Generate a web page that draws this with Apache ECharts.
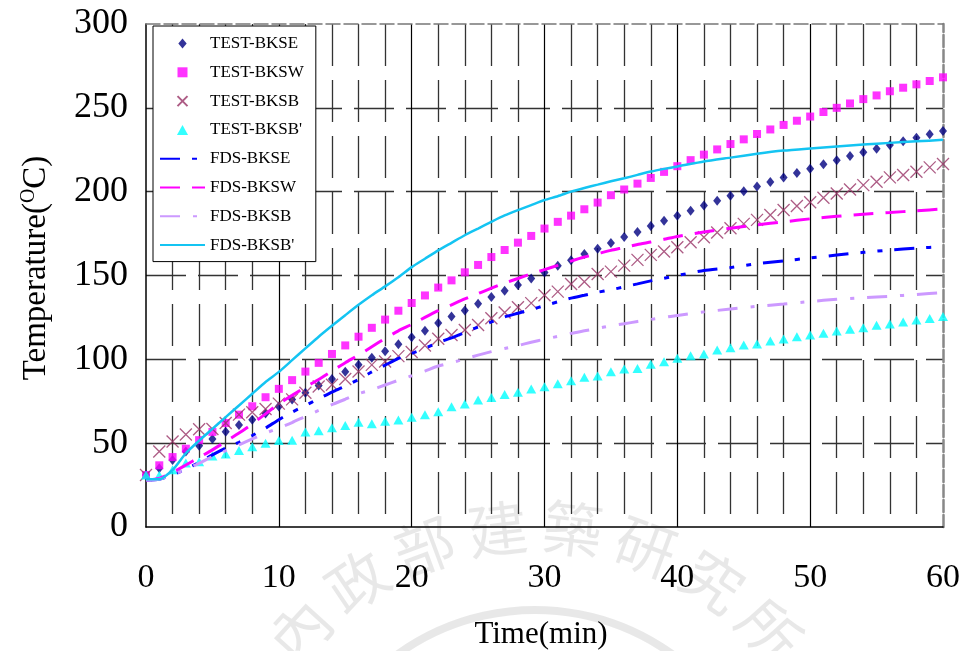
<!DOCTYPE html>
<html>
<head>
<meta charset="utf-8">
<script src="https://cdn.jsdelivr.net/npm/echarts@6/dist/echarts.min.js"></script>
<style>
  html, body { margin: 0; padding: 0; background: #fff; }
  #chart { width: 963px; height: 651px; }
</style>
</head>
<body>
<div id="chart"></div>
<script>
// Measured temperatures, one reading per minute (0-60 min)
const testMinutes = [0,1,2,3,4,5,6,7,8,9,10,11,12,13,14,15,16,17,18,19,20,21,22,23,24,25,26,27,28,29,30,
  31,32,33,34,35,36,37,38,39,40,41,42,43,44,45,46,47,48,49,50,51,52,53,54,55,56,57,58,59,60];

const testBKSE = [31,35,40,45,48.5,52.5,56.8,60.8,64,67.7,71.9,76,80.1,84.4,88.2,92.6,96.7,100.9,104.8,109,113.2,
  117.1,121.6,125.5,129.1,133.2,137.2,140.9,144.3,148.2,151.8,155.8,159.1,162.8,166,169.4,173,176,179.5,182.6,185.6,
  188.6,191.7,194.6,197.6,200.3,203.1,205.8,208.4,211.1,213.7,216.4,218.8,221.2,223.5,225.6,227.8,230.1,232.2,234.2,236.2];

const testBKSW = [31,36.8,41.7,46.7,51.8,56.7,62,67,72,77.4,82.4,87.6,92.7,97.9,103.2,108.3,113.5,118.8,123.7,129,133.6,
  138.1,142.8,147.1,151.9,156.3,161,165.2,169.6,173.6,178,182,185.7,189.5,193.5,197.9,201.3,204.8,208.2,211.8,215.2,
  218.8,222.1,225.2,228.4,231.2,234.4,237.1,239.8,242.3,244.8,247.5,250,252.6,255.2,257.4,259.9,262,264,266,268.2];

const testBKSB = [31,45,51,55.2,58.3,58.4,62,67,68.4,70.4,73.6,76.1,80.1,83.8,84.8,88.3,92.7,96.7,98.7,101.9,104.4,
  108.3,112.3,114.5,117.5,120.5,124.5,127.9,131.1,133.5,138.2,140.4,144.9,146.3,150.9,152.3,155.9,159.3,162.3,164.3,166.8,
  169.8,172.8,175.6,178.2,180.8,183.2,186.1,189.1,191.5,193.7,196.4,198.9,201.3,203.9,205.9,208.5,209.9,211.9,214.5,216.5];

const testBKSBp = [31,30.8,34.1,38.1,38.9,42.4,43.6,45.6,47.8,50,51.6,51.8,56.6,57.4,59.2,60.6,62.5,61.6,63,63.8,65.4,
  67,68.8,71.7,73.3,75.7,77.3,79.1,80.3,82.3,83.7,85.5,87.2,89.3,90,92.6,94.2,94.6,97,98.6,100.6,
  102.1,103.2,105.5,106.9,108.5,109.1,110.9,112.1,113.5,114.5,115.5,116.9,117.9,118.9,120.3,121.1,122.3,123.5,124.3,125.5];

// FDS simulation output times (min)
const fdsMinutes = [0,1,2,3,4,5,6,7,8,9,10,11,12,13,14,15,16,17,18,19,20,21,22,23,24,25,26,27,28,29,30,
  31,32,33,34,35,36,37,38,39,40,42,44,46,48,50,52,54,56,58,60];

const fdsBKSE = [28,28.5,31,34.5,38.5,43,47,50.5,54.5,59,64,68.5,72.5,76.5,80.5,84,88,92.5,96.5,100.5,103.5,
  106.5,110,112.8,116,119.3,122.3,125.3,127.5,129.7,132,134.3,136.5,138.2,140,141.5,143.2,145,146.8,148.4,150,
  153,154.7,157,158.7,160.5,162.2,163.8,165.2,166.3,167.2];

const fdsBKSW = [28,29,32.5,37,41.5,46,51,56,61.5,67.5,73.5,78.5,83.5,88,93,98,102.5,107.5,112.5,117,120.8,
  125,129,132.5,136,139.2,142.5,145.5,148.2,151,153.5,156,158.6,161,163,165,166.7,168.5,170,171.6,173.3,
  176,178.2,180.2,182,183.8,185.3,186.6,187.6,188.6,189.7];

const fdsBKSB = [28,28.5,31,34.5,38,42,45.5,49,52.5,56,59,62.3,66,69.5,73,76.2,79.5,81.8,84.7,87.5,90.2,
  93,96,98,100.2,102.5,104.6,106.5,108.2,110.2,112,113.7,115.5,117,118.5,120,121.2,122.6,123.8,125,126.2,
  128.3,130,131.6,133,134.5,135.8,136.8,137.6,138.7,139.8];

const fdsBKSBp = [28.5,28.5,34,44,51.5,58.5,65.5,72.5,79.5,86.5,92.5,99.5,106.5,113.5,120,126.3,132.5,138.2,143.5,149,155,
  160,165,169.5,174,178,182,185.8,189,192,195,197.3,200,202.2,204.2,206.2,208,210,212,213.6,215,
  218,220.3,222.6,224.5,225.8,227,228.1,229.1,230,230.9];

const seriesNames = ['TEST-BKSE', 'TEST-BKSW', 'TEST-BKSB', "TEST-BKSB'",
                     'FDS-BKSE', 'FDS-BKSW', 'FDS-BKSB', "FDS-BKSB'"];

const xTicks = [0, 10, 20, 30, 40, 50, 60];
const yTicks = [0, 50, 100, 150, 200, 250, 300];

const watermarkChars = ['內', '政', '部', '建', '築', '研', '究', '所'];

const SERIF = '"Liberation Serif", "Times New Roman", serif';

// marker outlines shared by the plot and the legend
const DIAMOND = 'path://M5,0L10,6L5,12L0,6Z';
const SQUARE = 'path://M0,0H10V10H0Z';
const CROSS = 'path://M0,0L10,10M10,0L0,10';
const TRIANGLE = 'path://M5,0L10,9H0Z';

function pairs(xs, ys) {
  return xs.map((x, i) => [x, ys[i]]);
}

// faint seal text arranged on an arc below the plot
function watermark() {
  const cx = 535, cy = 845, r = 318;
  const step = 13.6;
  const first = -step * (watermarkChars.length - 1) / 2;
  const items = watermarkChars.map((ch, i) => {
    const deg = first + step * i;
    const rad = deg * Math.PI / 180;
    return {
      type: 'text',
      x: cx + r * Math.sin(rad),
      y: cy - r * Math.cos(rad),
      rotation: -rad,
      silent: true,
      z: -5,
      style: {
        text: ch,
        font: '60px "Noto Sans CJK TC", sans-serif',
        fill: 'rgba(0,0,0,0.09)',
        align: 'center',
        verticalAlign: 'middle'
      }
    };
  });
  items.push({
    type: 'arc',
    silent: true,
    z: -5,
    shape: { cx: cx, cy: cy, r: 235, startAngle: -Math.PI * 0.82, endAngle: -Math.PI * 0.18 },
    style: { stroke: 'rgba(0,0,0,0.09)', lineWidth: 8, fill: null }
  });
  return items;
}

const chart = echarts.init(document.getElementById('chart'), null, { renderer: 'canvas' });

const xLabelSet = new Set(xTicks);
const yLabelSet = new Set(yTicks);

const markerIcons = [DIAMOND, SQUARE, CROSS, TRIANGLE];
const legendData = seriesNames.map((name, i) => (
  i < 4 ? { name: name, icon: markerIcons[i] }
        : { name: name, itemStyle: { opacity: 0 } }
));

chart.setOption({
  backgroundColor: '#ffffff',
  animation: false,
  textStyle: { fontFamily: SERIF },
  grid: { left: 146, right: 18, top: 24, bottom: 124 },
  legend: {
    data: legendData,
    orient: 'vertical',
    left: 153,
    top: 26,
    backgroundColor: '#ffffff',
    borderColor: '#000000',
    borderWidth: 1,
    borderRadius: 0,
    padding: [9, 12, 8, 6],
    itemWidth: 45,
    itemHeight: 10,
    itemGap: 11.8,
    textStyle: { fontFamily: SERIF, fontSize: 17, color: '#000', lineHeight: 16 },
    selectedMode: false
  },
  graphic: [
    ...watermark(),
    {
      type: 'text',
      x: 36, y: 268,
      rotation: Math.PI / 2,
      style: {
        text: '{t|Temperature(}{s|O}{t|C)}',
        rich: {
          t: { font: '33px ' + SERIF, fill: '#000' },
          s: { font: '20px ' + SERIF, fill: '#000', padding: [0, 0, 14, 0] }
        },
        align: 'center',
        verticalAlign: 'middle'
      }
    },
    {
      type: 'text',
      x: 541, y: 635,
      style: {
        text: 'Time(min)',
        font: '31px ' + SERIF,
        fill: '#000',
        align: 'center',
        verticalAlign: 'middle'
      }
    }
  ],
  xAxis: [
    {
      type: 'value',
      min: 0, max: 60, interval: 10,
      axisLine: { show: true, onZero: false, lineStyle: { color: '#000', width: 1.5 } },
      axisTick: { show: false },
      axisLabel: {
        margin: 34,
        fontSize: 34,
        color: '#000',
        fontFamily: SERIF,
        formatter: v => (xLabelSet.has(v) ? String(v) : '')
      },
      splitLine: { show: true, showMinLine: false, showMaxLine: false, lineStyle: { color: '#000', width: 1.2 } },
      minorTick: { show: false, splitNumber: 5 },
      minorSplitLine: { show: true, lineStyle: { color: '#333', width: 1.3, type: [42, 14] } }
    },
    {
      type: 'value',
      position: 'top',
      min: 0, max: 60, interval: 10,
      axisLine: { show: true, onZero: false, lineStyle: { color: '#777', width: 1.5, type: [14, 4] } },
      axisTick: { show: false },
      axisLabel: { show: false },
      splitLine: { show: false }
    }
  ],
  yAxis: [
    {
      type: 'value',
      min: 0, max: 300, interval: 50,
      axisLine: { show: true, onZero: false, lineStyle: { color: '#000', width: 1.5 } },
      axisTick: { show: false },
      axisLabel: {
        margin: 18,
        fontSize: 36,
        color: '#000',
        fontFamily: SERIF,
        formatter: v => (yLabelSet.has(v) ? String(v) : '')
      },
      splitLine: { show: true, showMinLine: false, showMaxLine: false, lineStyle: { color: '#333', width: 1.3, type: [40, 12] } }
    },
    {
      type: 'value',
      position: 'right',
      min: 0, max: 300, interval: 50,
      axisLine: { show: true, onZero: false, lineStyle: { color: '#888', width: 2.5, type: [12, 3] } },
      axisTick: { show: false },
      axisLabel: { show: false },
      splitLine: { show: false }
    }
  ],
  series: [
    {
      name: 'TEST-BKSE', type: 'scatter',
      data: pairs(testMinutes, testBKSE),
      symbol: DIAMOND, symbolSize: [8, 10],
      itemStyle: { color: '#000080' }
    },
    {
      name: 'TEST-BKSW', type: 'scatter',
      data: pairs(testMinutes, testBKSW),
      symbol: SQUARE, symbolSize: 8,
      itemStyle: { color: '#FF00FF' }
    },
    {
      name: 'TEST-BKSB', type: 'scatter',
      data: pairs(testMinutes, testBKSB),
      symbol: CROSS, symbolSize: 12,
      itemStyle: { color: 'rgba(0,0,0,0)', borderColor: '#993366', borderWidth: 1.3 }
    },
    {
      name: "TEST-BKSB'", type: 'scatter',
      data: pairs(testMinutes, testBKSBp),
      symbol: TRIANGLE, symbolSize: [10, 9],
      itemStyle: { color: '#00FFFF' }
    },
    {
      name: 'FDS-BKSE', type: 'line',
      data: pairs(fdsMinutes, fdsBKSE),
      symbol: 'none', smooth: 0.2,
      lineStyle: { color: '#0000FF', width: 3, type: [20, 12, 5, 12, 5, 12] },
      itemStyle: { color: '#0000FF' }
    },
    {
      name: 'FDS-BKSW', type: 'line',
      data: pairs(fdsMinutes, fdsBKSW),
      symbol: 'none', smooth: 0.2,
      lineStyle: { color: '#FF00FF', width: 3, type: [20, 12] },
      itemStyle: { color: '#FF00FF' }
    },
    {
      name: 'FDS-BKSB', type: 'line',
      data: pairs(fdsMinutes, fdsBKSB),
      symbol: 'none', smooth: 0.2,
      lineStyle: { color: '#CC99FF', width: 3, type: [20, 13, 4, 13] },
      itemStyle: { color: '#CC99FF' }
    },
    {
      name: "FDS-BKSB'", type: 'line',
      data: pairs(fdsMinutes, fdsBKSBp),
      symbol: 'none', smooth: 0.2,
      lineStyle: { color: '#14C4F2', width: 2.5 },
      itemStyle: { color: '#14C4F2' }
    }
  ]
});
</script>
</body>
</html>
